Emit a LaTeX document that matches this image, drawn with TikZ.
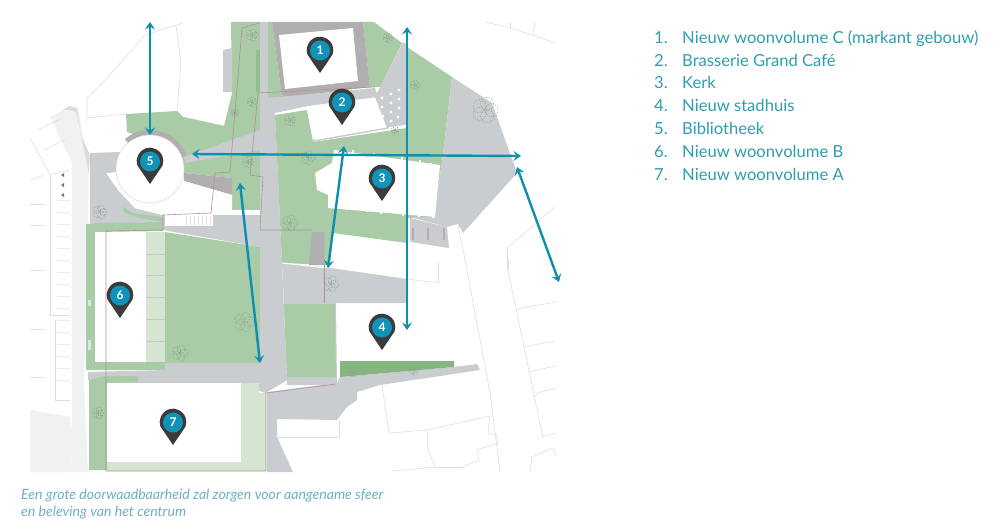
\documentclass[tikz,border=0pt]{standalone}
\usepackage{fontspec}
\setmainfont{Lato}
\usetikzlibrary{arrows.meta}
\definecolor{lawn}{HTML}{A9CBA6}
\definecolor{lawndark}{HTML}{86B680}
\definecolor{lawnpale}{HTML}{D5E5D2}
\definecolor{paving}{HTML}{C9CDD0}
\definecolor{pavedark}{HTML}{B0AEB0}
\definecolor{roadpale}{HTML}{F0F1F3}
\definecolor{plotline}{HTML}{DEDEDE}
\definecolor{redline}{HTML}{B09093}
\definecolor{arrowblue}{HTML}{0E8FAE}
\definecolor{pinblue}{HTML}{1093B8}
\definecolor{pindark}{HTML}{3B3B3B}
\definecolor{legendcol}{HTML}{2E9DB0}
\definecolor{capcol}{HTML}{6FB0BF}
\definecolor{treecol}{HTML}{8E9E90}
\tikzset{
  x=1pt,y=-1pt,
  plot/.style={draw=plotline,line width=0.6pt},
  redplot/.style={draw=redline,line width=0.6pt},
  arrowline/.style={draw=arrowblue,line width=2.4pt,{Stealth[length=7.5pt,width=10pt,inset=3pt]}-{Stealth[length=7.5pt,width=10pt,inset=3pt]}},
  pinnum/.style={circle,fill=pinblue,text=white,minimum size=20pt,inner sep=0pt,font=\bfseries\fontsize{12}{12}\selectfont},
  legendtext/.style={anchor=base west,inner sep=0pt,text=legendcol,font=\fontsize{16.6}{17}\selectfont},
  captext/.style={anchor=base west,inner sep=0pt,text=capcol,font=\itshape\fontsize{14.1}{15}\selectfont},
  treeline/.style={draw=treecol,line width=0.55pt,dash pattern=on 1pt off 1.5pt},
}
\newcommand{\pinmark}[4]{%
  \fill[pindark] (#2,#3+23) -- (#2-12.5,#3+4.55) arc[start angle=200,end angle=-20,radius=13.3pt] -- cycle;
  \node[pinnum] (#1) at (#2,#3+0.5) {#4};}
\newcommand{\treemark}[3]{%
  \foreach \ang in {0,72,144,216,288}{%
    \draw[treeline] (#1,#2) ++(\ang:0.5*#3 pt) circle[radius=0.5*#3 pt];}}
\begin{document}
\begin{tikzpicture}
\useasboundingbox (0,0) rectangle (1000,532);
% pale road on the left
\fill[roadpale] (50,117) -- (63,110) -- (78,107) -- (88,167) -- (88,270) -- (84,380) -- (88,472) -- (72,472) -- (70,417) -- (30,410) -- (30,472) -- (68,472) -- (72,420) -- (72,163) -- cycle;
\fill[roadpale] (30,410) -- (70,417) -- (72,472) -- (68,472) -- (68,455) -- (61,455) -- (61,472) -- (33,472) -- (30,472) -- cycle;
\fill[paving!70!white] (62,110) -- (70,106) -- (77,108) -- (81,135) -- (90,155) -- (89,175) -- (79,125) -- (76,112) -- (70,110) -- cycle;
% plot lines left
\foreach \a/\b/\c/\d in {30/138/45/165,45/165/50/175,50/175/50/315,55/320/55/400,30/180/44/175,30/204/45/204,30/225/45/225,30/270/45/270,30/329/45/329,30/377/45/377,50/315/70/315,55/400/70/400,38/130/62/118,44/150/65/140,50/175/70/170}{\draw[plot] (\a,\b) -- (\c,\d);}
\foreach \q in {200,212,224,236,248,260,272,284,296,308,320,332,344,356,368,380}{\draw[plot,draw=plotline!60!white] (57,\q) -- (70,\q);}
\fill[pindark!70!white] (61,175) -- (64,173) -- (64,177) -- cycle;
\fill[pindark!70!white] (61,185) -- (64,183) -- (64,187) -- cycle;
\fill[pindark!70!white] (61,195) -- (64,193) -- (64,197) -- cycle;
% top-left plot
\draw[plot] (87,118) -- (87,98) -- (108,77) -- (123,60) -- (145,35) -- (183,23);
\draw[plot] (176,26) -- (181,63) -- (177,110);
\draw[plot] (87,118) -- (126,114);
\draw[plot] (183,117) -- (224,126);
% upper-left lawn
\fill[lawn] (126,114) -- (177,111) -- (183,117) -- (224,126) -- (232,93) -- (231,22) -- (260,22) -- (260,210) -- (232,210) -- (232,178) -- (184,173) -- (180,150) -- (127,132) -- cycle;
\fill[lawndark!60!lawn] (256,50) rectangle (260,92);
\fill[paving] (223,50) -- (232,48) -- (232,92) -- (223,92) -- cycle;
\fill[paving] (184,157) -- (260,130) -- (260,150) -- (185,163) -- cycle;
\fill[pavedark] (184,173) -- (232,178) -- (232,195) -- (184,181) -- cycle;
% paving round the library
\fill[paving] (90,153) -- (120,152) -- (116,175) -- (135,208) -- (163,215) -- (260,215) -- (260,247) -- (163,230) -- (163,222) -- (95,224) -- (90,224) -- cycle;
\fill[lawn] (122,207) -- (133,213) -- (163,217) -- (163,222) -- (140,218) -- (125,213) -- cycle;
\fill[white] (106,173) -- (118,190) -- (135,208) -- (163,215) -- (212,215) -- (232,210) -- (232,195) -- (184,181) -- (150,169) -- cycle;
\fill[white] (165,215) rectangle (213,226);
\fill[white] (232,210) rectangle (260,215);
\foreach \q in {186,190,194,198,202,206,210}{\draw[plotline,line width=0.8pt] (\q,216) -- (\q,225);}
% ring and library
\draw[pavedark,line width=5pt] (126.5,141) arc[start angle=130,end angle=20,radius=36.5pt];
\filldraw[fill=white,draw=redline!40!white,line width=0.5pt] (150,169) circle[radius=34pt];
% lower lawn and building B
\fill[lawn] (95,223) -- (163,222) -- (163,231) -- (95,232) -- cycle;
\fill[lawn] (165,232) -- (260,247) -- (260,363) -- (165,363) -- cycle;
\fill[lawnpale] (146,232) rectangle (165,363);
\foreach \q in {254,275,297,319,341}{\draw[pavedark!70!white,line width=0.7pt] (146,\q) -- (165,\q);}
\fill[lawn] (86,224) -- (95,224) -- (95,362) -- (165,362) -- (165,370) -- (86,370) -- cycle;
\fill[white] (95,232) rectangle (146,362);
\fill[paving!60!white] (88,300) rectangle (91,306);
\fill[paving!60!white] (88,340) rectangle (91,350);
% band and building A
\fill[paving] (88,372) -- (165,370) -- (165,363) -- (262,363) -- (287,380) -- (265,393) -- (241,383) -- (107,383) -- (88,380) -- cycle;
\fill[lawnpale] (107,383) -- (259,383) -- (259,393) -- (266,393) -- (266,471) -- (107,471) -- cycle;
\fill[lawn] (89,380) -- (105,376) -- (138,376) -- (138,382) -- (107,383) -- (107,470) -- (89,470) -- cycle;
\fill[white] (107,383) rectangle (241,462);
% central road
\fill[paving] (260,22) -- (268,22) -- (268,98) -- (275,115) -- (282,263) -- (287,380) -- (265,393) -- (260,363) -- cycle;
\draw[pavedark!60!white,line width=0.4pt] (265,180) -- (262,370);
\draw[pavedark!60!white,line width=0.4pt] (270,180) -- (278,370);
% central lawn
\fill[lawn] (275,115) -- (307,110) -- (313,142) -- (407,128) -- (407,47) -- (452,77) -- (442,163) -- (433,218) -- (407,218) -- (407,243) -- (333,233) -- (330,265) -- (282,263) -- cycle;
% building 1
\fill[lawn] (268,22) -- (272,22) -- (282,98) -- (268,98) -- cycle;
\fill[lawn] (363,22) -- (374,22) -- (402,43) -- (380,87) -- (370,87) -- cycle;
\fill[pavedark] (272,22) -- (363,22) -- (370,87) -- (282,98) -- cycle;
\fill[white] (279,35) -- (353,28) -- (358,81) -- (285,89) -- cycle;
% roads around 2
\fill[paving] (267,98) -- (375,88) -- (378,97) -- (308,106) -- (275,113) -- (268,115) -- cycle;
\fill[paving] (403,42) -- (407,45) -- (407,127) -- (387,128) -- (375,97) -- (380,87) -- cycle;
\foreach \u/\v in {399/90,391/94,382/98,399/99,391/103,382/107,399/108,391/112,383/116,398/117,391/121,384/125}{\fill[white] (\u,\v) circle[radius=1.6pt];}
\fill[white] (389,127) -- (406,125) -- (406,127) -- (390,129) -- cycle;
\draw[paving,line width=1.5pt] (310,120) -- (314,141) -- (388,128);
\fill[white] (307,110) -- (375,98) -- (380,127) -- (313,139) -- cycle;
% plaza right
\fill[paving] (452,77) -- (492,103) -- (517,173) -- (463,233) -- (458,224) -- (447,227) -- (410,217) -- (433,217) -- (442,163) -- cycle;
\fill[paving] (410,227) -- (447,227) -- (449,248) -- (410,242) -- cycle;
\fill[paving] (410,218) -- (447,227) -- (410,227) -- cycle;
\foreach \u in {413,428,444}{\draw[pavedark,line width=1.6pt] (\u,228) -- (\u,240);}
% church
\fill[white] (333,157) -- (334,150) -- (440,165) -- (435,217) -- (328,208) -- (328,195) -- (317,190) -- (315,173) -- (332,163) -- cycle;
\foreach \u/\v in {342/149,352/150,373/153,401/157,419/160,430/163}{\fill[white] (\u,\v) rectangle ++(2,3);}
\foreach \u/\v in {345/210,366/212,380/214,402/216,418/217,432/218}{\fill[white] (\u,\v) rectangle ++(2,-3);}
% gray block below church
\fill[paving] (282,263) -- (324,267) -- (407,279) -- (406,303) -- (284,303) -- cycle;
\fill[pavedark] (312,232) -- (324,232) -- (324,265) -- (309,265) -- cycle;
\draw[white,line width=1pt] (282,263) -- (326,268);
% lawn before 4 and lower right
\fill[paving] (284,303) -- (336,303) -- (337,385) -- (287,385) -- cycle;
\fill[lawn] (284,304) -- (335,304) -- (336,377) -- (287,377) -- cycle;
\fill[paving] (267,392) -- (267,472) -- (293,472) -- (277,437) -- (277,419) -- (337,420) -- (347,407) -- (357,400) -- (357,392) -- (380,385) -- (480,370) -- (477,364) -- (454,367) -- (340,377) -- (337,383) -- cycle;
\fill[lawndark] (340,361) -- (454,361) -- (454,367) -- (340,377) -- cycle;
% red plan lines
\draw[redplot] (242,28) -- (260,23);
\draw[redplot] (242,28) -- (230,172) -- (215,173) -- (211,213) -- (163,215) -- (163,230) -- (106,231) -- (106,471) -- (266,471) -- (266,393) -- (336,384);
\draw[redplot] (324,303) -- (324,263);
\draw[redplot] (375,87) -- (258,93) -- (250,175) -- (263,177) -- (260,230) -- (312,230);
% plot lines right
\foreach \a/\b/\c/\d in {485/22/510/28,510/28/510/23,510/28/533/35,533/35/535/22,533/35/555/43,507/270/507/248,507/248/555/207,458/225/467/270,467/270/490/393,490/393/500/472,508/260/508/270,508/270/543/438,516/309/556/302,523/347/555/341,528/372/556/366,533/397/540/392,540/392/556/388,542/437/556/433,530/472/532/457,532/457/553/448,553/448/556/456,382/385/389/433,389/433/427/430,427/430/490/416,427/430/428/450,428/450/435/467,435/467/463/467,463/467/479/460,479/460/477/450,477/450/498/443,498/443/496/435,496/435/488/433,490/416/488/433,392/471/435/467,277/437/339/437,339/437/339/420,407/279/438/283,438/283/438/262}{\draw[plot] (\a,\b) -- (\c,\d);}
% trees
\treemark{252}{35}{6}
\treemark{252}{102}{5}
\treemark{235}{113}{4}
\treemark{248}{162}{6}
\treemark{100}{212}{7}
\treemark{290}{120}{6}
\treemark{290}{223}{8}
\treemark{308}{158}{7}
\treemark{388}{38}{5}
\treemark{415}{85}{5}
\treemark{395}{130}{4}
\treemark{485}{110}{13}
\treemark{244}{322}{10}
\treemark{180}{353}{8}
\treemark{98}{413}{6}
\treemark{331}{284}{8}
\treemark{352}{372}{5}
\treemark{414}{370}{5}
% arrows
\coordinate (a1s) at (150,22); \coordinate (a1e) at (150,135);
\coordinate (a2s) at (192,154); \coordinate (a2e) at (521,156);
\coordinate (a3s) at (407,27); \coordinate (a3e) at (407,330);
\coordinate (a4s) at (344,146); \coordinate (a4e) at (328,268);
\coordinate (a5s) at (240,183); \coordinate (a5e) at (260,363);
\coordinate (a6s) at (517,167); \coordinate (a6e) at (559,282);
\draw[arrowline] (a1s) -- (a1e);
\draw[arrowline] (a2s) -- (a2e);
\draw[arrowline] (a3s) -- (a3e);
\draw[arrowline] (a4s) -- (a4e);
\draw[arrowline] (a5s) -- (a5e);
\draw[arrowline] (a6s) -- (a6e);
% pins
\pinmark{p1}{320}{50}{1}
\pinmark{p2}{342}{102}{2}
\pinmark{p3}{382}{178}{3}
\pinmark{p4}{382}{327}{4}
\pinmark{p5}{150}{161}{5}
\pinmark{p6}{120}{295}{6}
\pinmark{p7}{173}{422}{7}
% legend
\foreach \n/\t/\q in {1./Nieuw woonvolume C (markant gebouw)/43.5,2./Brasserie Grand Café/66.3,3./Kerk/89,4./Nieuw stadhuis/112,5./Bibliotheek/134.8,6./Nieuw woonvolume B/157.6,7./Nieuw woonvolume A/180.3}{
  \node[legendtext] at (654,\q) {\n};
  \node[legendtext] at (682,\q) {\t};
}
% caption
\node[captext] (cap1) at (21,499.5) {Een grote doorwaadbaarheid zal zorgen voor aangename sfeer};
\node[captext] (cap2) at (21,516) {en beleving van het centrum};
\end{tikzpicture}
\end{document}
